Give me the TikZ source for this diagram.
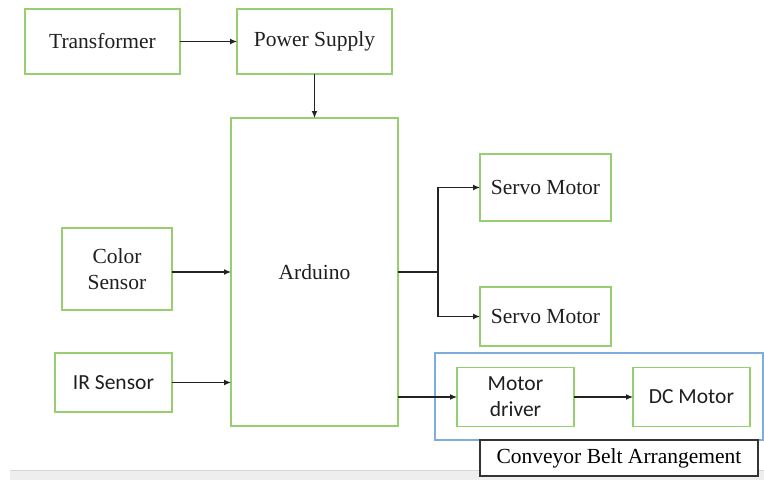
\documentclass[tikz,border=0pt]{standalone}
\usepackage{fontspec}
\setmainfont{Liberation Serif}
\newfontfamily\calfont{Carlito}
\usetikzlibrary{arrows.meta}
\definecolor{boxgreen}{RGB}{150,206,112}
\definecolor{boxblue}{RGB}{125,172,222}
\definecolor{arrowgrey}{RGB}{35,35,35}
\definecolor{stripgrey}{RGB}{238,238,238}
\definecolor{stripline}{RGB}{215,215,215}
\tikzset{
  gbox/.style={draw=boxgreen, line width=1.4pt, fill=white, inner sep=0pt, outer sep=0pt,
    align=center, text=black!88, font=\fontsize{21.5}{26}\selectfont},
  sbox/.style={gbox, font=\calfont\fontsize{21.5}{26}\selectfont},
  conn/.style={draw=arrowgrey, line width=1.2pt},
  arr/.style={conn, -{Latex[length=7pt,width=6pt]}},
}
\begin{document}
\begin{tikzpicture}[x=1pt,y=-1pt]
\useasboundingbox (0,0) rectangle (764,480);
\fill[white] (0,0) rectangle (764,480);
% bottom strip
\fill[stripgrey] (10,470) rectangle (764,480);
\draw[stripline, line width=0.8pt] (10,470) -- (764,470);
% blue grouping box
\node[draw=boxblue, line width=1.2pt, minimum width=328pt, minimum height=87pt, inner sep=0pt] (belt) at (599,396.5) {};
% label box
\node[draw=black!80, line width=1.3pt, fill=white, minimum width=278pt, minimum height=36pt, inner sep=0pt,
  font=\fontsize{21.5}{26}\selectfont] (lbl) at (619,458) {Conveyor Belt Arrangement};
% boxes
\node[gbox, minimum width=155pt, minimum height=65pt] (tr) at (102.5,41.5) {Transformer};
\node[gbox, minimum width=155pt, minimum height=65pt] (ps) at (314.5,41.5) {Power Supply};
\node[gbox, minimum width=167pt, minimum height=308pt] (ard) at (314.5,272) {Arduino};
\node[gbox, minimum width=110pt, minimum height=82pt] (cs) at (117,269) {Color\\Sensor};
\node[sbox, minimum width=117pt, minimum height=59pt] (ir) at (113.5,382.5) {IR Sensor};
\node[gbox, minimum width=131pt, minimum height=67pt] (s1) at (545.5,187.5) {Servo Motor};
\node[gbox, minimum width=131pt, minimum height=59pt] (s2) at (545.5,316.5) {Servo Motor};
\node[sbox, minimum width=117pt, minimum height=59pt] (md) at (515.5,397) {Motor\\driver};
\node[sbox, minimum width=117pt, minimum height=59pt] (dc) at (691.5,397) {DC Motor};
% connectors
\draw[arr] (tr.east) -- (ps.west);
\draw[arr] (ps.south) -- (ard.north);
\draw[arr] (cs.east |- ard.center) -- (ard.west);
\draw[arr] (ir.east) -- (ir.east -| ard.west);
\draw[conn] (ard.east) -- ++(40,0) coordinate (br);
\draw[arr] (br) |- (s1.west);
\draw[arr] (br) |- (s2.west);
\draw[arr] (ard.east |- md.west) -- (md.west);
\draw[arr] (md.east) -- (dc.west);
\end{tikzpicture}
\end{document}
